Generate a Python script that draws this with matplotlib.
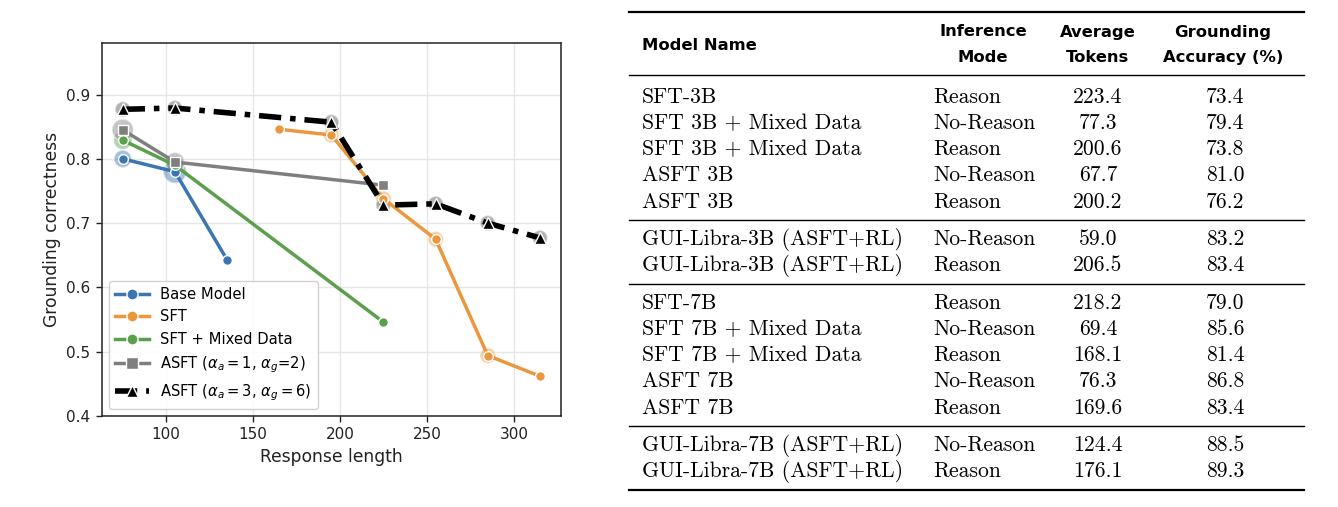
import matplotlib
matplotlib.use("Agg")
import matplotlib.pyplot as plt
from matplotlib.lines import Line2D

# ---- chart data (response length vs grounding correctness) ----
base_x = [75, 105, 135]
base_y = [0.800, 0.780, 0.643]
sft_x = [165, 195, 225, 255, 285, 315]
sft_y = [0.846, 0.837, 0.738, 0.675, 0.494, 0.462]
mix_x = [75, 105, 225]
mix_y = [0.829, 0.790, 0.546]
asft1_x = [75, 105, 225]
asft1_y = [0.845, 0.795, 0.759]
asft3_x = [75, 105, 195, 225, 255, 285, 315]
asft3_y = [0.877, 0.879, 0.857, 0.728, 0.730, 0.700, 0.677]

series_labels = ["Base Model", "SFT", "SFT + Mixed Data",
                 r"ASFT ($\alpha_a = 1$, $\alpha_g$=2)",
                 r"ASFT ($\alpha_a = 3$, $\alpha_g = 6$)"]

# ---- table data ----
model_names = ["SFT-3B", "SFT 3B + Mixed Data", "SFT 3B + Mixed Data", "ASFT 3B", "ASFT 3B",
               "GUI-Libra-3B (ASFT+RL)", "GUI-Libra-3B (ASFT+RL)",
               "SFT-7B", "SFT 7B + Mixed Data", "SFT 7B + Mixed Data", "ASFT 7B", "ASFT 7B",
               "GUI-Libra-7B (ASFT+RL)", "GUI-Libra-7B (ASFT+RL)"]
modes = ["Reason", "No-Reason", "Reason", "No-Reason", "Reason",
         "No-Reason", "Reason",
         "Reason", "No-Reason", "Reason", "No-Reason", "Reason",
         "No-Reason", "Reason"]
avg_tokens = ["223.4", "77.3", "200.6", "67.7", "200.2",
              "59.0", "206.5",
              "218.2", "69.4", "168.1", "76.3", "169.6",
              "124.4", "176.1"]
accuracy = ["73.4", "79.4", "73.8", "81.0", "76.2",
            "83.2", "83.4",
            "79.0", "85.6", "81.4", "86.8", "83.4",
            "88.5", "89.3"]
group_sizes = [5, 2, 5, 2]

# ---- styles ----
BLUE, ORANGE, GREEN, GRAY = "#3B75B3", "#EB973E", "#5C9F4C", "#7F7F7F"
TXT = "#222222"

fig = plt.figure(figsize=(13.38, 5.07), dpi=100)
ax = fig.add_axes([0.0759, 0.1795, 0.3432, 0.7355])

specs = [
    (base_x, base_y, BLUE, "o", "-", 2.5, 7, [(0, 160), (1, 280)]),
    (sft_x, sft_y, ORANGE, "o", "-", 2.5, 7, [(1, 130), (2, 130), (3, 130), (4, 130)]),
    (mix_x, mix_y, GREEN, "o", "-", 2.5, 7, [(0, 180), (1, 170)]),
    (asft1_x, asft1_y, GRAY, "s", "-", 2.5, 7, [(0, 240), (1, 190)]),
    (asft3_x, asft3_y, "black", "^", (0, (4, 1.6, 1, 1.6)), 4, 8,
     [(i, 120) for i in range(7)]),
]

handles = []
for (xs, ys, col, mk, ls, lw, ms, halos), lab in zip(specs, series_labels):
    halo_col = "#555555" if col == "black" else col
    hx = [xs[i] for i, _ in halos]
    hy = [ys[i] for i, _ in halos]
    hs = [s for _, s in halos]
    ax.scatter(hx, hy, s=hs, color=halo_col, alpha=0.45, edgecolor="white",
               linewidth=1.2, zorder=2)
    ax.plot(xs, ys, color=col, linestyle=ls, linewidth=lw, marker=mk, markersize=ms,
            markeredgecolor="white", markeredgewidth=1, zorder=3)
    handles.append(Line2D([], [], color=col, linestyle=ls, linewidth=lw, marker=mk,
                          markersize=ms + 1, markeredgecolor="white",
                          markeredgewidth=1, label=lab))

ax.set_xlim(62.8, 327)
ax.set_ylim(0.4, 0.98)
ax.set_xticks([100, 150, 200, 250, 300])
ax.set_yticks([0.4, 0.5, 0.6, 0.7, 0.8, 0.9])
ax.grid(True, color="#e6e6e6", linewidth=1)
ax.set_axisbelow(True)
for sp in ax.spines.values():
    sp.set_color("#222222")
    sp.set_linewidth(1.1)
ax.tick_params(labelsize=11, length=4.5, width=1, colors=TXT)
ax.set_xlabel("Response length", fontsize=12.3, color=TXT)
ax.set_ylabel("Grounding correctness", fontsize=12.3, color=TXT)
leg = ax.legend(handles=handles, loc="lower left", fontsize=10.6, handlelength=2.3,
                framealpha=0.9, edgecolor="#cccccc", labelspacing=0.5)

# ---- table drawn in pixel coordinates ----
tab = fig.add_axes([0, 0, 1, 1])
tab.set_xlim(0, 1338)
tab.set_ylim(507, 0)
tab.axis("off")

left, right = 629, 1304
col1, col2, col3, col4 = 642, 933, 1098, 1225
hdr = dict(family="DejaVu Sans", weight="bold", fontsize=11.8, color="black", va="center")
tab.text(col1, 45, "Model Name", ha="left", **hdr)
for cx, l1, l2 in [(983, "Inference", "Mode"), (1098, "Average", "Tokens"),
                   (1223, "Grounding", "Accuracy (%)")]:
    tab.text(cx, 32, l1, ha="center", **hdr)
    tab.text(cx, 57.5, l2, ha="center", **hdr)

tab.plot([left, right], [12, 12], color="black", lw=1.6)
tab.plot([left, right], [74.5, 74.5], color="black", lw=1.0)

body = dict(family="cmr10", fontsize=15.6, color="black", va="center")
y = 97
row = 0
for g, n in enumerate(group_sizes):
    for _ in range(n):
        tab.text(col1, y, model_names[row], ha="left", **body)
        tab.text(col2, y, modes[row], ha="left", **body)
        tab.text(col3, y, avg_tokens[row], ha="center", **body)
        tab.text(col4, y, accuracy[row], ha="center", **body)
        row += 1
        y += 26.2
    if g < len(group_sizes) - 1:
        ry = y - 26.2 + 18.5
        tab.plot([left, right], [ry, ry], color="black", lw=1.0)
        y = ry + 19
tab.plot([left, right], [489.5, 489.5], color="black", lw=1.6)

fig.savefig("out.png", dpi=100)
